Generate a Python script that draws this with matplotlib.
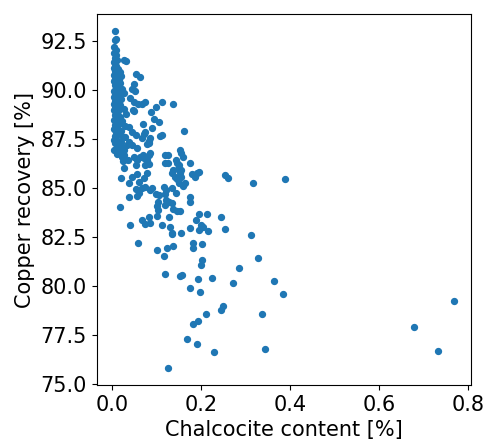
import matplotlib
matplotlib.use("Agg")
import matplotlib.pyplot as plt

# Near-zero chalcocite column
col_x = [0.005,0.009,0.006,0.004,0.007,0.003,0.008,0.005,0.011,0.004,0.027,0.030,0.006,0.009,0.003,0.012,
         0.005,0.016,0.008,0.004,0.020,0.010,0.006,0.014,0.003,0.009,0.018,0.005,0.012,0.007,0.022,0.004,
         0.010,0.027,0.006,0.015,0.003,0.008,0.020,0.005,0.012,0.004,0.018,0.009,0.006,0.025,0.003,0.013,
         0.007,0.030,0.005,0.016,0.010,0.004,0.022,0.008,0.014,0.005,0.028,0.011,0.004,0.019,0.007,0.013,
         0.005,0.024,0.009,0.003,0.016,0.006,0.012,0.020,0.008,0.004,0.014,0.010]
col_y = [93.03,92.62,92.55,92.20,92.05,91.90,91.80,91.65,91.55,91.45,91.53,91.50,91.35,91.25,91.15,91.10,
         91.00,90.95,90.88,90.80,90.75,90.70,90.60,90.55,90.45,90.40,90.35,90.25,90.20,90.10,90.05,89.98,
         89.90,89.85,89.80,89.72,89.65,89.60,89.55,89.45,89.38,89.30,89.25,89.18,89.10,89.05,88.98,88.92,
         88.85,88.80,88.72,88.65,88.58,88.50,88.45,88.38,88.30,88.20,88.15,88.08,88.00,87.92,87.85,87.75,
         87.68,87.60,87.52,87.45,87.38,87.30,87.20,87.10,87.02,86.95,86.85,86.75]

# Remaining samples
rest_x = [0.054,0.063,0.048,0.044,0.050,0.039,0.048,0.057,0.073,0.067,0.111,0.137,0.097,0.087,0.047,0.093,
          0.048,0.104,0.069,0.089,0.073,0.070,0.112,0.106,0.162,0.037,0.044,0.052,0.067,0.082,0.085,0.029,
          0.037,0.044,0.020,0.025,0.085,0.153,0.155,0.022,0.034,0.048,0.056,0.069,0.078,0.119,0.125,0.144,
          0.149,0.175,0.191,
          0.018,0.033,0.056,0.078,0.082,0.159,0.025,0.023,0.061,0.070,0.082,0.074,0.082,0.052,0.025,0.118,
          0.125,0.146,0.136,0.147,0.155,0.133,0.140,0.146,0.153,0.155,0.178,0.185,0.194,0.254,0.078,0.056,
          0.044,0.059,0.037,0.020,0.070,0.074,0.084,0.052,0.059,0.056,0.037,0.067,0.089,0.098,0.104,0.117,
          0.121,0.118,0.133,0.142,0.149,0.158,0.163,0.103,0.101,0.121,0.127,0.134,0.119,0.103,0.137,0.146,
          0.151,0.175,0.175,0.016,0.101,0.082,0.067,0.073,0.085,0.039,0.112,0.127,0.130,0.134,0.133,0.154,
          0.174,0.187,0.194,0.214,0.200,0.205,0.194,0.216,0.245,0.254,0.057,0.101,0.123,0.137,0.116,0.181,
          0.181,0.202,0.202,0.199,
          0.260,0.317,0.388,0.313,0.327,0.286,0.224,0.271,0.363,0.198,0.385,0.250,0.245,0.210,0.336,0.229,
          0.343,0.119,0.152,0.157,0.193,0.174,0.192,0.182,0.167,0.191,0.126,
          0.680,0.734,0.769]
rest_y = [90.82,90.68,90.34,90.09,89.96,89.63,89.39,89.32,89.40,89.29,89.42,89.32,89.15,88.88,88.98,88.52,
          88.93,88.38,88.27,88.05,87.87,87.76,87.70,87.67,87.92,88.10,87.87,87.70,87.54,87.28,87.54,87.62,
          87.36,87.19,87.36,86.94,86.80,86.97,86.80,86.60,86.43,86.60,86.43,86.68,86.43,86.68,86.68,86.43,
          86.17,86.29,85.75,
          87.31,87.19,87.03,87.25,87.41,86.57,86.68,86.39,86.57,86.52,86.68,86.17,86.22,86.16,86.01,86.26,
          86.26,86.26,85.95,86.00,85.95,85.75,85.58,85.44,85.75,85.58,85.70,85.55,85.80,85.65,85.75,85.70,
          85.58,85.32,85.24,85.50,85.50,85.07,84.90,84.93,84.73,84.59,84.56,84.98,84.98,84.69,84.64,85.07,
          84.90,84.69,84.98,84.73,85.27,85.10,85.24,84.30,84.08,84.39,84.30,84.25,84.13,83.88,83.93,83.84,
          83.83,84.53,84.30,84.01,83.57,83.54,83.37,83.15,83.20,83.11,83.11,83.50,82.99,82.72,82.64,82.69,
          82.97,83.37,83.67,83.67,83.13,82.99,82.86,82.82,83.50,82.89,82.18,81.84,81.92,82.04,81.53,82.18,
          81.92,82.13,81.33,81.06,
          85.50,85.27,85.44,82.62,81.44,80.90,80.39,80.17,80.24,79.71,79.61,78.98,78.79,78.56,78.59,76.62,
          76.79,80.61,80.52,80.54,80.34,79.91,78.21,78.05,77.31,77.03,75.80,
          77.92,76.70,79.23]

x = col_x + rest_x
y = col_y + rest_y

fig = plt.figure(figsize=(4.84, 4.41), dpi=100)
ax = fig.add_axes([0.200, 0.127, 0.773, 0.841])
ax.scatter(x, y, s=18, color="#1f77b4")
ax.set_xlabel("Chalcocite content [%]", fontsize=15)
ax.set_ylabel("Copper recovery [%]", fontsize=15)
ax.set_xticks([0.0, 0.2, 0.4, 0.6, 0.8])
ax.set_yticks([75.0, 77.5, 80.0, 82.5, 85.0, 87.5, 90.0, 92.5])
ax.tick_params(labelsize=15)
fig.savefig("out.png", dpi=100)
